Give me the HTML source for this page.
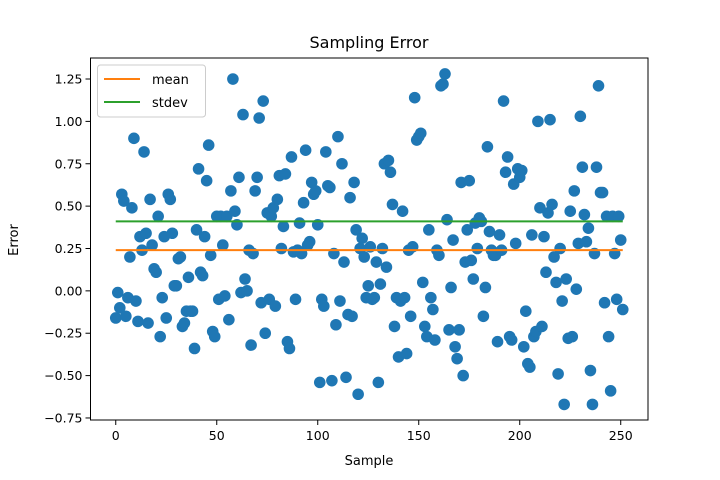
<!DOCTYPE html>
<html><head><meta charset="utf-8"><style>
body{margin:0;background:#fff;}
svg{display:block;font-family:"DejaVu Sans","Liberation Sans",sans-serif;}
</style></head><body>
<svg id="chart" width="720" height="480" xmlns="http://www.w3.org/2000/svg">
<rect width="720" height="480" fill="#fff"/>
<text x="369" y="48" text-anchor="middle" font-size="16">Sampling Error</text>
<g id="plot"></g>
<text x="369" y="465" text-anchor="middle" font-size="13">Sample</text>
<text transform="translate(18,240) rotate(-90)" text-anchor="middle" font-size="13">Error</text>
</svg>
<script>
const errors=[-0.16,-0.01,-0.10,0.57,0.53,-0.15,-0.04,0.20,0.49,0.90,-0.06,-0.18,0.32,0.24,0.82,0.34,-0.19,0.54,0.27,0.13,0.11,0.44,-0.27,-0.04,0.32,-0.16,0.57,0.54,0.34,0.03,0.03,0.19,0.20,-0.21,-0.19,-0.12,0.08,-0.12,-0.12,-0.34,0.36,0.72,0.11,0.09,0.32,0.65,0.86,0.21,-0.24,-0.27,0.44,-0.05,0.44,0.27,-0.03,0.44,-0.17,0.59,1.25,0.47,0.39,0.67,-0.01,1.04,0.07,0.00,0.24,-0.32,0.22,0.59,0.67,1.02,-0.07,1.12,-0.25,0.46,-0.05,0.44,0.49,-0.09,0.54,0.68,0.25,0.38,0.69,-0.30,-0.34,0.79,0.23,-0.05,0.24,0.40,0.22,0.52,0.83,0.27,0.29,0.64,0.57,0.59,0.39,-0.54,-0.05,-0.09,0.82,0.62,0.61,-0.53,0.22,-0.20,0.91,-0.06,0.75,0.17,-0.51,-0.14,0.55,-0.15,0.64,0.36,-0.61,0.25,0.31,0.20,-0.04,0.03,0.26,-0.05,-0.04,0.17,-0.54,0.04,0.25,0.75,0.14,0.77,0.70,0.51,-0.21,-0.04,-0.39,-0.06,0.47,-0.04,-0.37,0.24,-0.15,0.26,1.14,0.89,0.91,0.93,0.05,-0.21,-0.27,0.36,-0.04,-0.11,-0.29,0.24,0.21,1.21,1.22,1.28,0.42,-0.23,0.02,0.30,-0.33,-0.40,-0.23,0.64,-0.50,0.17,0.36,0.65,0.18,0.07,0.40,0.25,0.43,0.41,-0.15,0.02,0.85,0.35,0.24,0.21,0.21,-0.30,0.33,0.24,1.12,0.70,0.79,-0.27,-0.29,0.63,0.28,0.72,0.67,0.71,-0.33,-0.12,-0.43,-0.45,0.33,-0.27,-0.24,1.00,0.49,-0.21,0.32,0.11,0.46,1.01,0.51,0.20,0.05,-0.49,0.25,-0.06,-0.67,0.07,-0.28,0.47,-0.27,0.59,0.01,0.28,1.03,0.73,0.45,0.29,0.37,-0.47,-0.67,0.22,0.73,1.21,0.58,0.58,-0.07,0.44,-0.27,-0.59,0.44,0.22,-0.05,0.44,0.30,-0.11];
const meanValue=[0.24];
const stdevValue=[0.41];
const xTicks=[0,50,100,150,200,250];
const yTicks=[-0.75,-0.5,-0.25,0,0.25,0.5,0.75,1.0,1.25];
const yTickLabels=["−0.75","−0.50","−0.25","0.00","0.25","0.50","0.75","1.00","1.25"];

const L=90.5,R=648,T=58,B=420;
const xmin=-12.5,xmax=263.5,ymin=-0.762,ymax=1.374;
const sx=v=>L+(v-xmin)/(xmax-xmin)*(R-L);
const sy=v=>B-(v-ymin)/(ymax-ymin)*(B-T);
const NS="http://www.w3.org/2000/svg";
const g=document.getElementById('plot');
function mk(tag,attrs,parent){const e=document.createElementNS(NS,tag);for(const k in attrs)e.setAttribute(k,attrs[k]);(parent||g).appendChild(e);return e;}

const pts=mk('g',{});


errors.forEach((v,i)=>{
  const c=mk('circle',{cx:sx(i),cy:sy(v),r:5.8,fill:'#1f77b4'},pts);
  
  
});
const ml=mk('line',{x1:sx(0),x2:sx(errors.length-1),y1:sy(meanValue[0]),y2:sy(meanValue[0]),stroke:'#ff7f0e','stroke-width':2});


const sl=mk('line',{x1:sx(0),x2:sx(errors.length-1),y1:sy(stdevValue[0]),y2:sy(stdevValue[0]),stroke:'#2ca02c','stroke-width':2});



const frame=mk('rect',{x:L,y:T,width:R-L,height:B-T,fill:'none',stroke:'#000','stroke-width':1});



xTicks.forEach(t=>{
  const x=sx(t);
  const tk=mk('line',{x1:x,x2:x,y1:B,y2:B+5,stroke:'#000'});
  
  
  const tx=mk('text',{x:x,y:B+20,'text-anchor':'middle','font-size':12.5});
  tx.textContent=t;
  
  
});
yTicks.forEach((t,i)=>{
  const y=sy(t);
  const tk=mk('line',{x1:L-5,x2:L,y1:y,y2:y,stroke:'#000'});
  
  
  const tx=mk('text',{x:L-8,y:y+4.5,'text-anchor':'end','font-size':12.5});
  tx.textContent=yTickLabels[i];
  
  
});

const lg=mk('g',{});


mk('rect',{x:97.5,y:65,width:108,height:52,rx:3,fill:'#fff','fill-opacity':0.8,stroke:'#ccc'},lg);
const e1=mk('g',{},lg);


mk('line',{x1:104,x2:140,y1:79,y2:79,stroke:'#ff7f0e','stroke-width':2},e1);
const t1=mk('text',{x:152,y:84,'font-size':13},e1);t1.textContent='mean';
const e2=mk('g',{},lg);


mk('line',{x1:104,x2:140,y1:102,y2:102,stroke:'#2ca02c','stroke-width':2},e2);
const t2=mk('text',{x:152,y:107,'font-size':13},e2);t2.textContent='stdev';
</script>
</body></html>
